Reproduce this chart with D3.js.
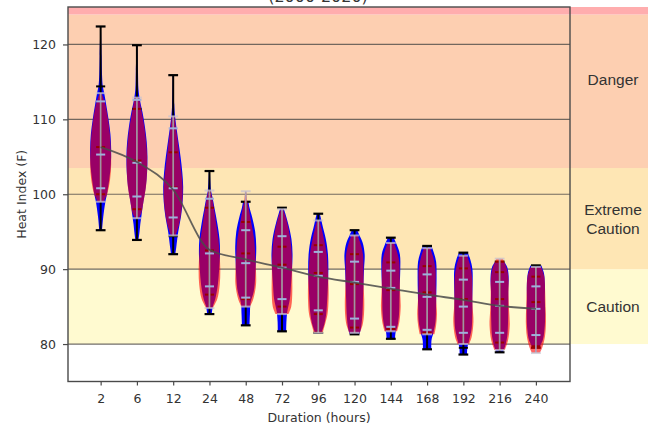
<!DOCTYPE html>
<html>
<head>
<meta charset="utf-8">
<script src="https://cdn.jsdelivr.net/npm/d3@7"></script>
<style>
  html, body { margin: 0; padding: 0; background: #fff; }
  svg { display: block; }
</style>
</head>
<body>
<svg id="chart" width="648" height="425"></svg>
<script>
// Duration categories (hours)
const categories = ["2", "6", "12", "24", "48", "72", "96", "120", "144", "168", "192", "216", "240"];
const yTicks = [80, 90, 100, 110, 120];

// Mean heat index per duration (F)
const meanHeat = [106.3, 104.3, 100.6, 92.6, 91.3, 90.2, 89.0, 88.2, 87.4, 86.6, 85.9, 85.1, 84.7];

// Heat-index categories
const bandNames = ["Caution", "Extreme Caution", "Danger", "Extreme Danger"];
const bandLow   = [80, 90, 103.5, 124];
const bandHigh  = [90, 103.5, 124, 125];
const bandLabelAt = [85, 96.75, 115.3, null];

// Series A (blue): density profile [heat index, relative density]
const blueProfiles = [
  [[95.2,0.13],[97,0.25],[99,0.45],[100,0.6],[102,0.82],[104,0.97],[106,1.0],[108,0.93],[110,0.75],[112,0.52],[113.5,0.34],[114.5,0.2],[116,0.13],[118.5,0.09],[122.4,0.03]],
  [[93.9,0.15],[95,0.25],[96,0.32],[97,0.42],[99,0.62],[101,0.85],[103,0.97],[105,1.0],[107,0.93],[109,0.76],[111,0.52],[112.5,0.3],[114,0.15],[116.5,0.1],[119.9,0.03]],
  [[92,0.2],[93,0.3],[95,0.48],[97,0.74],[99,0.9],[101,0.95],[103,0.86],[105,0.7],[107,0.5],[109,0.3],[110.5,0.17],[112,0.1],[115.9,0.04]],
  [[84,0.22],[85,0.32],[86,0.55],[88,0.8],[90,0.92],[92,1.0],[94,0.96],[96,0.76],[98,0.5],[99.5,0.3],[100.5,0.15],[103.1,0.05]],
  [[82.5,0.36],[84,0.4],[85.5,0.46],[87,0.76],[89,0.9],[91,0.96],[93,1.0],[95,0.9],[97,0.6],[98.2,0.36],[99,0.26]],
  [[81.7,0.4],[83,0.42],[84.3,0.5],[86,0.75],[88,0.86],[90,0.95],[92,1.0],[94,0.9],[96,0.6],[97.5,0.3],[98.2,0.15]],
  [[81.5,0.3],[82.5,0.55],[84,0.75],[86,0.85],[88,0.92],[90,0.96],[92,0.92],[94,0.72],[95.5,0.46],[96.5,0.3],[97.4,0.15]],
  [[81.3,0.45],[82,0.6],[84,0.75],[86,0.8],[88,0.85],[90,0.9],[92,0.96],[93.5,0.78],[94.5,0.48],[95.2,0.26]],
  [[80.7,0.4],[81.5,0.45],[82.5,0.65],[84,0.78],[86,0.82],[88,0.85],[90,0.9],[92,0.86],[93.3,0.56],[94.2,0.28]],
  [[79.3,0.4],[80.5,0.42],[81.5,0.6],[83,0.8],[85,0.85],[87,0.88],[89,0.9],[91,0.86],[92.3,0.62],[93.1,0.42]],
  [[78.6,0.35],[79.5,0.38],[80.5,0.55],[82,0.78],[84,0.85],[86,0.85],[88,0.88],[90,0.86],[91.3,0.66],[92.2,0.42]],
  [[78.9,0.3],[79.6,0.5],[81,0.72],[83,0.8],[85,0.82],[87,0.82],[89,0.86],[90.3,0.72],[91,0.42]],
  [[79.5,0.3],[80.5,0.65],[82,0.82],[84,0.88],[86,0.85],[88,0.86],[89.5,0.76],[90.5,0.52]]
];

// Series B (red): density profile [heat index, relative density]
const redProfiles = [
  [[99,0.3],[99.5,0.45],[100,0.62],[102,0.9],[104,1.0],[106,0.97],[108,0.88],[110,0.7],[112,0.44],[113,0.22],[113.5,0.08]],
  [[96.8,0.15],[97.5,0.42],[99,0.62],[101,0.86],[103,0.96],[105,0.97],[107,0.87],[109,0.7],[111,0.45],[112.9,0.2]],
  [[94.5,0.22],[96,0.56],[98,0.8],[100,0.9],[102,0.85],[104,0.68],[106,0.52],[108,0.34],[110.4,0.12]],
  [[84.8,0.32],[86,0.74],[88,0.98],[90,1.03],[92,0.96],[94,0.85],[96,0.64],[98,0.44],[99.5,0.25],[100.5,0.1]],
  [[85,0.42],[86,0.72],[88,0.98],[90,0.97],[92,0.9],[94,0.8],[96,0.55],[98,0.3],[99,0.15],[100.4,0.05]],
  [[84,0.62],[85,0.88],[87,0.98],[89,0.97],[91,0.95],[93,0.88],[95,0.68],[97,0.34],[98,0.1]],
  [[81.5,0.42],[82.5,0.62],[84,0.88],[86,0.98],[88,0.97],[90,0.9],[92,0.8],[94,0.54],[95.5,0.3],[96.5,0.12]],
  [[81.5,0.5],[82.5,0.76],[84,0.9],[86,0.92],[88,0.86],[90,0.85],[92,0.8],[93.5,0.55],[94.5,0.3]],
  [[81.7,0.6],[83,0.82],[85,0.94],[87,0.88],[89,0.85],[91,0.8],[92.5,0.55],[93.5,0.3]],
  [[81.3,0.7],[82.5,0.86],[84,0.94],[86,0.86],[88,0.82],[90,0.8],[91.5,0.6],[92.8,0.3]],
  [[80,0.55],[81,0.8],[83,0.96],[85,0.88],[87,0.85],[89,0.82],[90.5,0.65],[91.8,0.35]],
  [[79.2,0.5],[80.5,0.8],[82.5,0.96],[84.5,0.9],[86.5,0.85],[88.5,0.85],[90,0.7],[91.4,0.3]],
  [[78.8,0.36],[79.5,0.6],[81,0.86],[83,0.96],[85,0.92],[87,0.88],[89,0.8],[90.3,0.5]]
];

// Quantile markers for each series
const blueQuantiles = [
  [100.0, 106.3, 114.4], [98.0, 104.5, 111.4], [94.4, 100.9, 105.6], [86.6, 92.5, 98.2],
  [86.0, 92.1, 96.3], [85.0, 90.6, 93.0], [84.0, 89.5, 93.2], [82.2, 88.0, 92.0],
  [82.0, 87.2, 90.9], [81.5, 86.9, 90.4], [79.5, 86.0, 90.1], [80.2, 86.0, 89.6], [79.7, 85.6, 89.0]
];
const redQuantiles = [
  [100.8, 105.3, 112.4], [99.7, 104.2, 112.6], [96.9, 100.8, 108.8], [87.7, 92.1, 99.4],
  [86.2, 90.8, 95.2], [86.0, 90.2, 94.4], [84.5, 89.1, 92.3], [83.4, 88.3, 91.0],
  [82.3, 87.5, 89.8], [81.9, 86.3, 89.3], [81.5, 85.0, 88.6], [81.5, 85.1, 88.3], [81.2, 84.7, 87.7]
];

// ---- layout ----
const svg = d3.select("#chart");
const plot = { left: 68, right: 570, top: 7, bottom: 381.5 };
const dejavu = "'DejaVu Sans', sans-serif";
const arial = "'Liberation Sans', Arial, sans-serif";

const x = d3.scaleLinear().domain([0.1, 13.94]).range([plot.left, plot.right]);
const y = d3.scaleLinear().domain([75, 125]).range([plot.bottom, plot.top]);
const halfWidth = d3.scaleLinear().domain([0, 1]).range([0, 0.29]); // density -> x units
const pos = i => i + 1;

// Heat-index bands (extend to the right-hand label panel)
const bandColors = ["#FFFAD0", "#FEE6B4", "#FDCFB1", "#FFADAE"];
svg.append("g").selectAll("rect").data(bandNames).join("rect")
  .attr("x", plot.left)
  .attr("width", 648 - plot.left)
  .attr("y", (d, i) => y(bandHigh[i]))
  .attr("height", (d, i) => y(bandLow[i]) - y(bandHigh[i]))
  .attr("fill", (d, i) => bandColors[i]);

// Horizontal grid lines
svg.append("g").selectAll("line").data(yTicks).join("line")
  .attr("x1", plot.left).attr("x2", plot.right)
  .attr("y1", d => y(d)).attr("y2", d => y(d))
  .attr("stroke", "#5a5550").attr("stroke-width", 1.2).attr("opacity", 0.85);

// Band labels in the right panel
const labelG = svg.append("g")
  .style("font-family", arial)
  .attr("font-size", 15.5).attr("fill", "#333").attr("text-anchor", "middle");
bandNames.forEach((name, i) => {
  if (bandLabelAt[i] == null) return;
  const words = name.split(" ");
  const lineH = 19;
  const t = labelG.append("text")
    .attr("x", 613)
    .attr("y", y(bandLabelAt[i]) - (words.length - 1) * lineH / 2);
  words.forEach((w, k) => {
    t.append("tspan").attr("x", 613).attr("dy", k === 0 ? "0.35em" : lineH).text(w);
  });
});

// Violin path generator (vertical)
function violinArea(center) {
  return d3.area()
    .curve(d3.curveCatmullRom.alpha(0.5))
    .y(d => y(d[0]))
    .x0(d => x(center - halfWidth(d[1])))
    .x1(d => x(center + halfWidth(d[1])));
}
const capHalf = 0.135;
const tickHalf = 0.125;

// Series A bodies (blue) and black extrema / quantile lines
const gA = svg.append("g");
blueProfiles.forEach((prof, i) => {
  const c = pos(i);
  gA.append("path").datum(prof).attr("d", violinArea(c)).attr("fill", "#0000ff");
});
blueProfiles.forEach((prof, i) => {
  const c = pos(i);
  const lo = prof[0][0], hi = prof[prof.length - 1][0];
  gA.append("line").attr("x1", x(c)).attr("x2", x(c)).attr("y1", y(lo)).attr("y2", y(hi))
    .attr("stroke", "#000").attr("stroke-width", 2);
  [lo, hi].forEach(v => gA.append("line")
    .attr("x1", x(c - capHalf)).attr("x2", x(c + capHalf)).attr("y1", y(v)).attr("y2", y(v))
    .attr("stroke", "#000").attr("stroke-width", 2.2));
  blueQuantiles[i].forEach(v => gA.append("line")
    .attr("x1", x(c - tickHalf)).attr("x2", x(c + tickHalf)).attr("y1", y(v)).attr("y2", y(v))
    .attr("stroke", "#000").attr("stroke-width", 2));
});

// Series B bodies (translucent red) and pale extrema / quantile lines
const gB = svg.append("g");
redProfiles.forEach((prof, i) => {
  const c = pos(i);
  gB.append("path").datum(prof).attr("d", violinArea(c))
    .attr("fill", "#ff0000").attr("fill-opacity", 0.6);
});
redProfiles.forEach((prof, i) => {
  const c = pos(i);
  const lo = prof[0][0], hi = prof[prof.length - 1][0];
  gB.append("line").attr("x1", x(c)).attr("x2", x(c)).attr("y1", y(lo)).attr("y2", y(hi))
    .attr("stroke", "#a3a9c6").attr("stroke-width", 1.8).attr("opacity", 0.85);
  [lo, hi].forEach(v => gB.append("line")
    .attr("x1", x(c - capHalf)).attr("x2", x(c + capHalf)).attr("y1", y(v)).attr("y2", y(v))
    .attr("stroke", "#c9c3d0").attr("stroke-width", 2).attr("opacity", 0.75));
  redQuantiles[i].forEach(v => gB.append("line")
    .attr("x1", x(c - tickHalf)).attr("x2", x(c + tickHalf)).attr("y1", y(v)).attr("y2", y(v))
    .attr("stroke", "#9fb0dc").attr("stroke-width", 2));
});

// Mean curve
svg.append("path")
  .datum(meanHeat.map((v, i) => [pos(i), v]))
  .attr("d", d3.line().curve(d3.curveMonotoneX).x(d => x(d[0])).y(d => y(d[1])))
  .attr("fill", "none").attr("stroke", "#4a4a4a").attr("stroke-width", 1.8).attr("opacity", 0.85);

// Frame
svg.append("rect")
  .attr("x", plot.left).attr("y", plot.top)
  .attr("width", plot.right - plot.left).attr("height", plot.bottom - plot.top)
  .attr("fill", "none").attr("stroke", "#4a4a4a").attr("stroke-width", 1.4);

// Axes
const yAxis = d3.axisLeft(y).tickValues(yTicks).tickSize(5).tickPadding(7);
const gy = svg.append("g").attr("transform", `translate(${plot.left},0)`).call(yAxis);
gy.select(".domain").remove();
gy.selectAll("line").attr("stroke", "#4a4a4a").attr("stroke-width", 1.2);
gy.selectAll("text").attr("font-size", 12.5).attr("fill", "#333").style("font-family", dejavu);

const xAxis = d3.axisBottom(x).tickValues(categories.map((c, i) => pos(i)))
  .tickFormat((d, i) => categories[i]).tickSize(4).tickPadding(9);
const gx = svg.append("g").attr("transform", `translate(0,${plot.bottom})`).call(xAxis);
gx.select(".domain").remove();
gx.selectAll("line").attr("stroke", "#4a4a4a").attr("stroke-width", 1.2);
gx.selectAll("text").attr("font-size", 12.5).attr("fill", "#333").style("font-family", dejavu);

// Axis titles
svg.append("text").attr("x", (plot.left + plot.right) / 2).attr("y", 422)
  .attr("text-anchor", "middle").attr("font-size", 12.5).attr("fill", "#333")
  .style("font-family", dejavu)
  .text("Duration (hours)");
svg.append("text")
  .attr("transform", `translate(26,${(plot.top + plot.bottom) / 2}) rotate(-90)`)
  .attr("text-anchor", "middle").attr("font-size", 12.5).attr("fill", "#333")
  .style("font-family", dejavu)
  .text("Heat Index (F)");

// Title (sits at the very top edge)
svg.append("text").attr("x", 318).attr("y", 1.5)
  .attr("text-anchor", "middle").attr("font-size", 16).attr("fill", "#333")
  .style("font-family", dejavu)
  .text("(2000-2020)");
</script>
</body>
</html>
